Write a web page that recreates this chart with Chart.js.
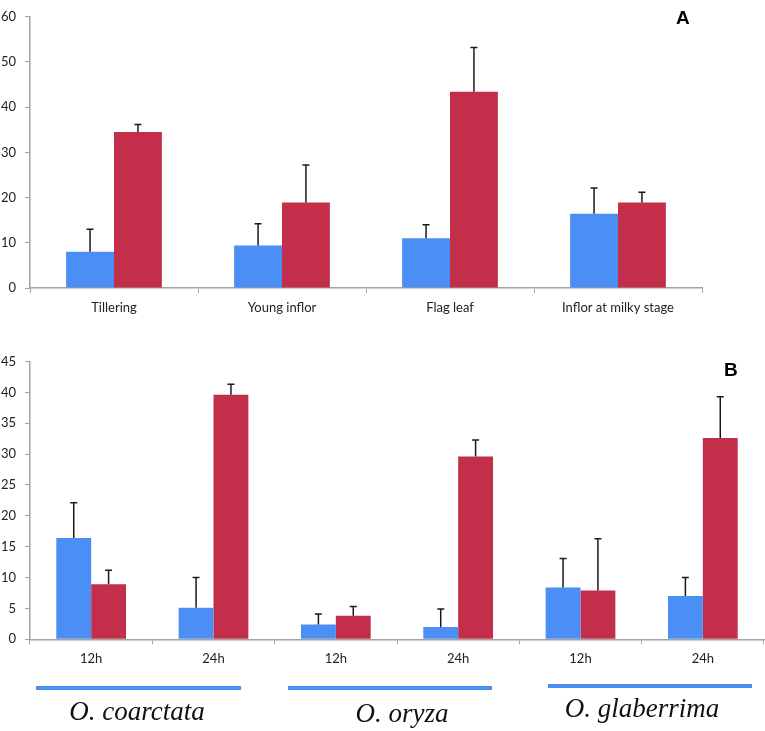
<!DOCTYPE html>
<html>
<head>
<meta charset="utf-8">
<script src="https://cdn.jsdelivr.net/npm/chart.js@4"></script>
<style>
  body { margin: 0; background: #fff; }
  #wrap { position: relative; width: 765px; height: 731px; overflow: hidden; }
  #chartA { position: absolute; left: 0; top: 0; }
  #chartB { position: absolute; left: 0; top: 320px; }
  .panel { position: absolute; font: bold 19px "Liberation Sans", Arial, sans-serif; color: #000; }
  .bar-line { position: absolute; height: 4px; background: #4a8ef2; }
  .species { position: absolute; font: italic 27px "Liberation Serif", "Times New Roman", serif; color: #111; transform: translateX(-50%); white-space: nowrap; }
</style>
</head>
<body>
<div id="wrap">
  <canvas id="chartA" width="765" height="320"></canvas>
  <canvas id="chartB" width="765" height="411"></canvas>
  <div class="panel" style="left:676px; top:7px;">A</div>
  <div class="panel" style="left:724px; top:359px;">B</div>
  <div class="bar-line" style="left:36px; width:205px; top:686px;"></div>
  <div class="bar-line" style="left:288px; width:204px; top:686px;"></div>
  <div class="bar-line" style="left:548px; width:204px; top:684px;"></div>
  <div class="species" style="left:137px; top:696px;">O. coarctata</div>
  <div class="species" style="left:402px; top:698px;">O. oryza</div>
  <div class="species" style="left:642px; top:693px;">O. glaberrima</div>
</div>
<script>
// panel A: tissues
const tissueLabels = ['Tillering', 'Young inflor', 'Flag leaf', 'Inflor at milky stage'];
const tissueBlue = [8.0, 9.4, 11.0, 16.4];
const tissueBlueErr = [5.0, 4.8, 3.0, 5.7];
const tissueRed = [34.5, 18.9, 43.4, 18.9];
const tissueRedErr = [1.7, 8.3, 9.8, 2.3];
const ticksA = { max: 60, step: 10 };

// panel B: time points per species
const timeLabels = ['12h', '24h', '12h', '24h', '12h', '24h'];
const timeBlue = [16.4, 5.1, 2.4, 2.0, 8.4, 7.0];
const timeBlueErr = [5.7, 4.9, 1.7, 2.9, 4.7, 3.0];
const timeRed = [8.9, 39.6, 3.8, 29.6, 7.9, 32.6];
const timeRedErr = [2.3, 1.7, 1.5, 2.7, 8.4, 6.7];
const ticksB = { max: 45, step: 5 };

const BLUE = '#4b8ef5';
const RED = '#c32f4a';
const AXIS = '#a3a3a3';
const FONT = 'Lato, "Open Sans", sans-serif';

// draws the upper error whisker on each bar
const errorBars = {
  id: 'errorBars',
  afterDatasetsDraw(chart) {
    const ctx = chart.ctx;
    const y = chart.scales.y;
    ctx.save();
    ctx.strokeStyle = '#1a1a1a';
    ctx.lineWidth = 1.5;
    chart.data.datasets.forEach((ds, i) => {
      const meta = chart.getDatasetMeta(i);
      meta.data.forEach((bar, j) => {
        const top = y.getPixelForValue(ds.data[j] + ds.errors[j]);
        ctx.beginPath();
        ctx.moveTo(bar.x, bar.y);
        ctx.lineTo(bar.x, top);
        ctx.moveTo(bar.x - 3.5, top);
        ctx.lineTo(bar.x + 3.5, top);
        ctx.stroke();
      });
    });
    ctx.restore();
  }
};

function makeChart(id, labels, blue, blueErr, red, redErr, yt, opts) {
  const ctx = document.getElementById(id).getContext('2d');
  return new Chart(ctx, {
    type: 'bar',
    data: {
      labels: labels,
      datasets: [
        { data: blue, errors: blueErr, backgroundColor: BLUE },
        { data: red, errors: redErr, backgroundColor: RED }
      ]
    },
    options: {
      responsive: false,
      animation: false,
      layout: { padding: opts.padding },
      datasets: { bar: { categoryPercentage: 0.57, barPercentage: 1.0 } },
      plugins: { legend: { display: false }, tooltip: { enabled: false } },
      scales: {
        x: {
          grid: { drawOnChartArea: false, offset: true, color: AXIS, tickLength: 5 },
          border: { color: AXIS, width: 1.5 },
          ticks: { color: '#222', font: { family: FONT, size: 13 }, padding: 7, maxRotation: 0 },
          afterFit: s => { s.height = opts.xHeight; }
        },
        y: {
          min: 0,
          max: yt.max,
          grid: { drawOnChartArea: false, color: AXIS, tickLength: 5 },
          border: { color: AXIS, width: 1.5 },
          ticks: { stepSize: yt.step, color: '#222', font: { family: FONT, size: 13 }, padding: 9 },
          afterFit: s => { s.width = 30; }
        }
      }
    },
    plugins: [errorBars]
  });
}

makeChart('chartA', tissueLabels, tissueBlue, tissueBlueErr, tissueRed, tissueRedErr, ticksA,
  { padding: { top: 9, right: 63, left: 0, bottom: 0 }, xHeight: 32 });
makeChart('chartB', timeLabels, timeBlue, timeBlueErr, timeRed, timeRedErr, ticksB,
  { padding: { top: 41.5, right: 1, left: 0, bottom: 0 }, xHeight: 91.7 });
</script>
</body>
</html>
